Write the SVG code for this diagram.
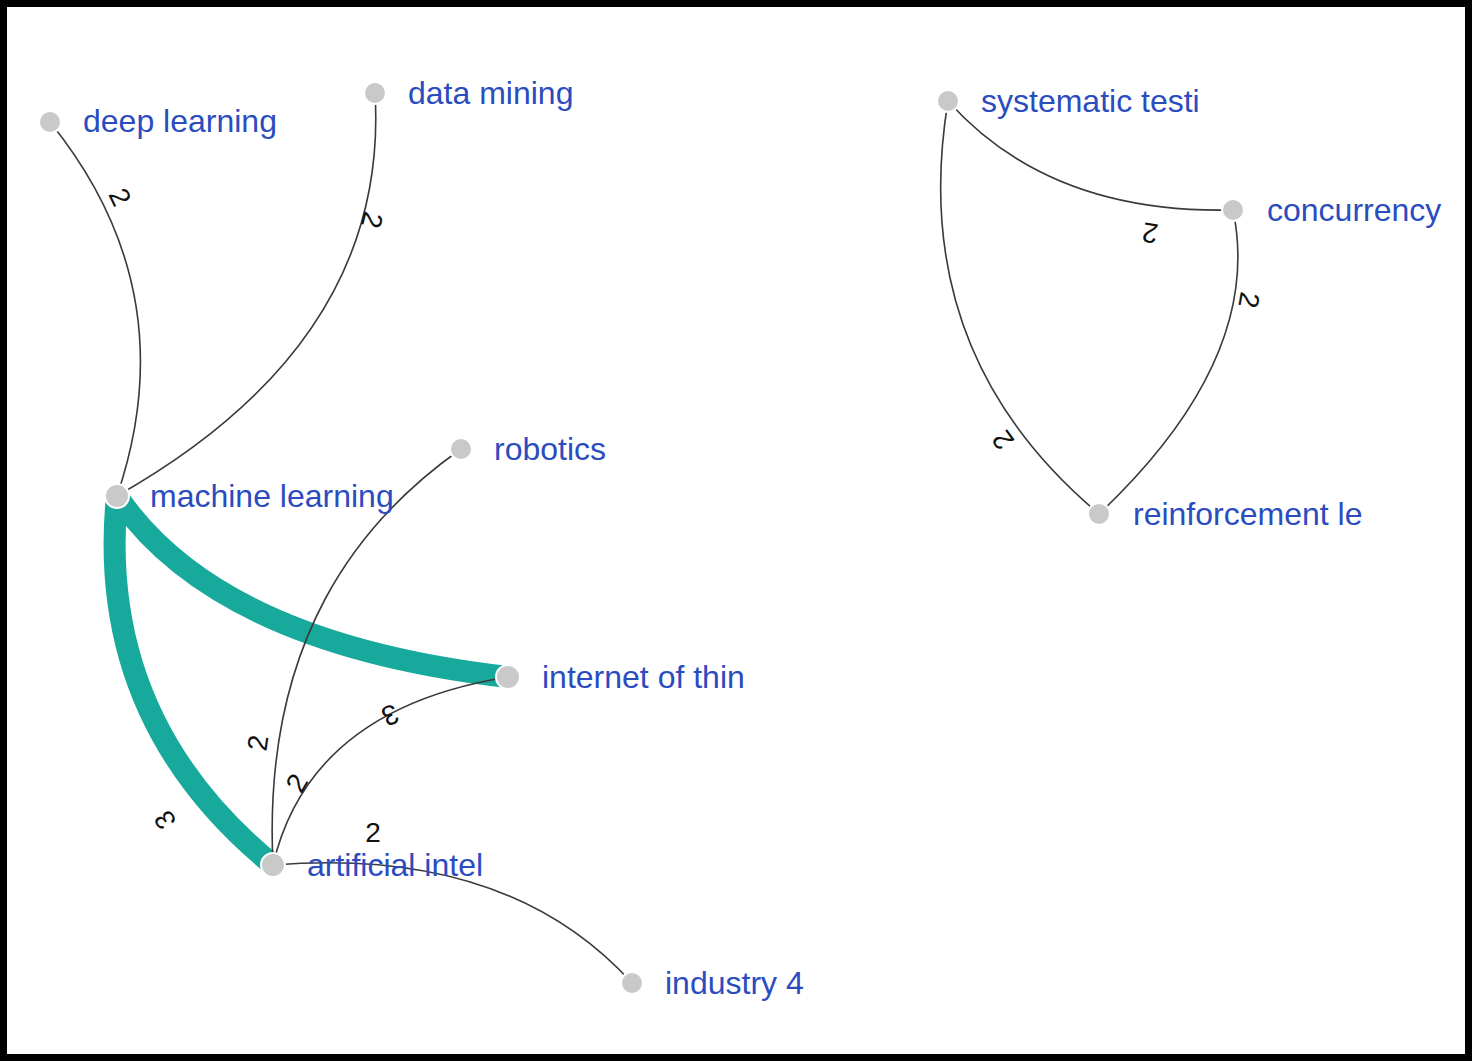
<svg xmlns="http://www.w3.org/2000/svg" width="1472" height="1062" viewBox="0 0 1472 1062">
<style>
.e{fill:none;stroke:#3a3a3a;stroke-width:1.6}
.t{fill:none;stroke:#17a99b;stroke-width:22}
.n{fill:#c9c9c9;stroke:#ffffff;stroke-width:2}
.l{font-family:"Liberation Sans",Arial,sans-serif;font-size:32px;fill:#2b4cbf}
.w{font-family:"Liberation Sans",Arial,sans-serif;font-size:28px;fill:#111;text-anchor:middle;dominant-baseline:central}
</style>
<rect x="0" y="0" width="1472" height="1062" fill="#ffffff"/>
<rect x="3.5" y="3.5" width="1465" height="1054" fill="none" stroke="#000" stroke-width="7"/>
<g id="connectors">
<path class="t" d="M117,496 Q217.5,643.5 508,677"/>
<path class="t" d="M117,496 Q95,719.5 273,865"/>
<path class="e" d="M50,122 Q186.5,291 117,496"/>
<path class="e" d="M375,93 Q390,341.5 117,496"/>
<path class="e" d="M461,449 C360,520 262,640 273,865"/>
<path class="e" d="M508,677 Q309.5,709 273,865"/>
<path class="e" d="M273,865 Q507.5,846 632,983"/>
<path class="e" d="M948,101 Q1049.5,214.5 1233,210"/>
<path class="e" d="M948,101 Q906.5,352.5 1099,514"/>
<path class="e" d="M1233,210 Q1264,358 1099,514"/>
<text class="w" transform="translate(120,197) rotate(64)">2</text>
<text class="w" transform="translate(372,220) rotate(104)">2</text>
<text class="w" transform="translate(258,743) rotate(-82)">2</text>
<text class="w" transform="translate(297,783) rotate(-60)">2</text>
<text class="w" transform="translate(390,715) rotate(158)">3</text>
<text class="w" transform="translate(165,820) rotate(-122)">3</text>
<text class="w" transform="translate(373,832)">2</text>
<text class="w" transform="translate(1150,233) rotate(189)">2</text>
<text class="w" transform="translate(1249,300) rotate(100)">2</text>
<text class="w" transform="translate(1003,440) rotate(-126)">2</text>
</g>
<g id="n-deep-learning"><circle class="n" cx="50" cy="122" r="11"/><text class="l" x="83" y="132">deep learning</text></g>
<g id="n-data-mining"><circle class="n" cx="375" cy="93" r="11"/><text class="l" x="408" y="104">data mining</text></g>
<g id="n-machine-learning"><circle class="n" cx="117" cy="496" r="12"/><text class="l" x="150" y="507">machine learning</text></g>
<g id="n-robotics"><circle class="n" cx="461" cy="449" r="11"/><text class="l" x="494" y="460">robotics</text></g>
<g id="n-internet-of-things"><circle class="n" cx="508" cy="677" r="12"/><text class="l" x="542" y="688">internet of thin</text></g>
<g id="n-artificial-intel"><circle class="n" cx="273" cy="865" r="12"/><text class="l" x="307" y="876">artificial intel</text></g>
<g id="n-industry-4"><circle class="n" cx="632" cy="983" r="11"/><text class="l" x="665" y="994">industry 4</text></g>
<g id="n-systematic-testing"><circle class="n" cx="948" cy="101" r="11"/><text class="l" x="981" y="112">systematic testi</text></g>
<g id="n-concurrency"><circle class="n" cx="1233" cy="210" r="11"/><text class="l" x="1267" y="221">concurrency</text></g>
<g id="n-reinforcement-learning"><circle class="n" cx="1099" cy="514" r="11"/><text class="l" x="1133" y="525">reinforcement le</text></g>
</svg>
